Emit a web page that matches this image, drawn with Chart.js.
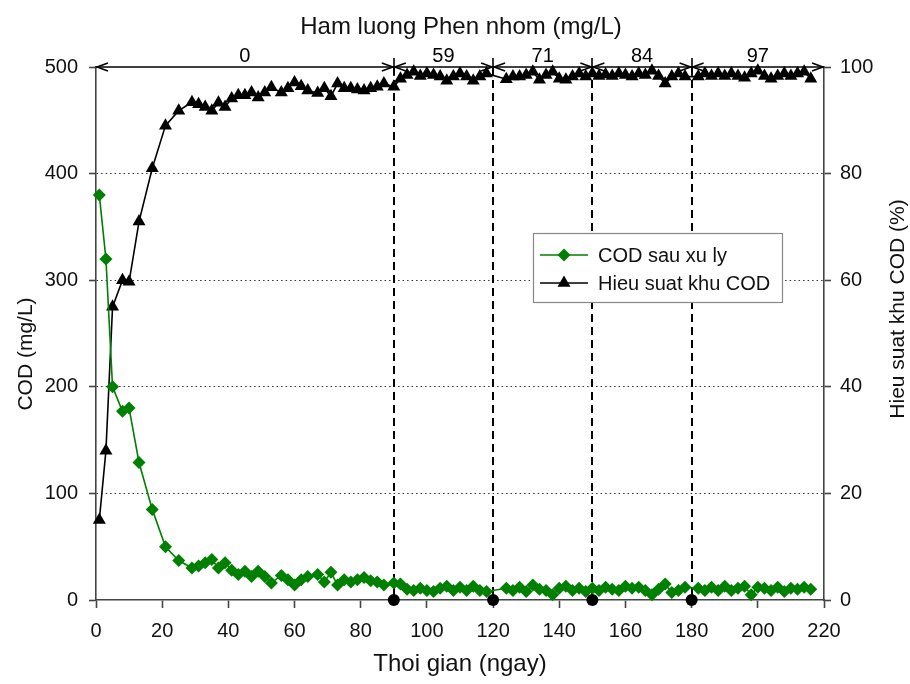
<!DOCTYPE html>
<html>
<head>
<meta charset="utf-8">
<script src="https://cdn.jsdelivr.net/npm/chart.js@4/dist/chart.umd.min.js"></script>
<style>
	body { margin: 0; background: #fff; }
	#wrap { width: 910px; height: 684px; }
</style>
</head>
<body>
<div id="wrap"><canvas id="chart-cod" width="910" height="684"></canvas></div>
<script>
// Data
const DAYS = [1, 3, 5, 8, 10, 13, 17, 21, 25, 29,
	31, 33, 35, 37, 39, 41, 43, 45, 47, 49, 51, 53,
	56, 58, 60, 62, 64,
	67, 69, 71, 73, 75, 77, 79, 81, 83, 85, 87,
	90, 92, 94, 96, 98, 100, 102, 104, 106, 108, 110, 112, 114, 116, 118,
	124, 126, 128, 130, 132, 134, 136, 138, 140, 142, 144, 146, 148, 150, 152, 154, 156, 158, 160, 162, 164, 166, 168, 170, 172, 174, 176, 178,
	182, 184, 186, 188, 190, 192, 194, 196, 198, 200, 202, 204, 206, 208, 210, 212, 214, 216];

const COD_OUT = [380, 320, 200, 177, 180, 129, 85, 50, 37, 30,
	32, 35, 38, 30, 35, 28, 24, 27, 22, 27, 22, 16,
	23, 19, 14, 19, 22,
	24, 17, 26, 14, 19, 17, 19, 21, 18, 17, 14,
	16, 15, 10, 9, 11, 9, 8, 11, 13, 9, 12, 9, 13, 9, 8,
	11, 9, 12, 8, 14, 10, 9, 5, 11, 13, 9, 11, 8, 11, 9, 12, 10, 9, 13, 11, 12, 9, 5, 10, 15, 7, 9, 12,
	11, 9, 12, 9, 13, 9, 11, 13, 5, 12, 11, 9, 12, 8, 11, 10, 12, 10];

const REMOVAL = [15, 28, 55, 60, 59.7, 71, 81, 89, 91.8, 93.4,
	93, 92.5, 91.8, 93.3, 92.5, 94.1, 94.7, 94.7, 95.2, 94.3, 95.2, 96.2,
	95.2, 96, 97.1, 96.4, 95.6,
	95.1, 96, 94.5, 96.9, 96, 96, 95.8, 95.6, 96, 96.3, 96.9,
	96.3, 97.8, 98.5, 99.1, 98.3, 98.8, 98.5, 98.2, 97.4, 98.2, 98.8, 98.2, 97.4, 98.2, 98.8,
	97.7, 98.2, 98.2, 98.5, 99.1, 97.6, 98.5, 99.1, 97.8, 97.6, 98.2, 98.8, 98.2, 98.8, 98.3, 98.6, 98.3, 98.8, 98.5, 98.2, 98.8, 98.5, 99.3, 98.3, 96.9, 98.2, 98.8, 98.2,
	98.2, 98.8, 98.3, 98.8, 98.3, 98.8, 98.3, 98, 98.8, 99.3, 98.3, 97.8, 98.3, 98.8, 98.3, 98.8, 99.1, 97.8];

// Alum dose periods (top arrows)
const DOSE_BOUNDS = [0, 90, 120, 150, 180, 220];
const DOSE_LABELS = ["0", "59", "71", "84", "97"];
const DOSE_CHANGE_DAYS = [90, 120, 150, 180];

const GREEN = "#008000";
const AXIS_COLOR = "#444";
const FONT = "'Liberation Sans', Arial, sans-serif";

//---------------------------------------------------------
// Helpers
//---------------------------------------------------------
const drawMarker = (ctx, style, x, y, r, color) => {
	ctx.save();
	ctx.fillStyle = color;
	ctx.beginPath();
	if (style === "rectRot") {
		ctx.moveTo(x, y - r);
		ctx.lineTo(x + r, y);
		ctx.lineTo(x, y + r);
		ctx.lineTo(x - r, y);
	} else {
		ctx.moveTo(x, y - r);
		ctx.lineTo(x + r * 0.866, y + r * 0.5);
		ctx.lineTo(x - r * 0.866, y + r * 0.5);
	}
	ctx.closePath();
	ctx.fill();
	ctx.restore();
};

const arrowHead = (ctx, x, y, dir) => {
	ctx.beginPath();
	ctx.moveTo(x + dir * 11, y - 4);
	ctx.lineTo(x, y);
	ctx.lineTo(x + dir * 11, y + 4);
	ctx.stroke();
};

//---------------------------------------------------------
// Plugins
//---------------------------------------------------------
const doseLines = {
	id: "doseLines",
	beforeDatasetsDraw(chart) {
		const { ctx, scales, chartArea } = chart;
		ctx.save();
		ctx.strokeStyle = "#000";
		ctx.lineWidth = 2;
		ctx.setLineDash([8, 5]);
		DOSE_CHANGE_DAYS.forEach((d) => {
			const x = Math.round(scales.x.getPixelForValue(d));
			ctx.beginPath();
			ctx.moveTo(x, chartArea.top);
			ctx.lineTo(x, chartArea.bottom);
			ctx.stroke();
		});
		ctx.restore();
	},
	afterDatasetsDraw(chart) {
		const { ctx, scales, chartArea } = chart;
		const yTop = chartArea.top;
		ctx.save();
		// dots on the time axis
		ctx.fillStyle = "#000";
		DOSE_CHANGE_DAYS.forEach((d) => {
			const x = scales.x.getPixelForValue(d);
			ctx.beginPath();
			ctx.arc(x, chartArea.bottom, 6, 0, Math.PI * 2);
			ctx.fill();
		});
		// arrows with dose labels
		ctx.strokeStyle = "#000";
		ctx.lineWidth = 1.6;
		ctx.font = "20px " + FONT;
		ctx.textAlign = "center";
		ctx.textBaseline = "alphabetic";
		for (let i = 0; i < DOSE_LABELS.length; i++) {
			const x1 = scales.x.getPixelForValue(DOSE_BOUNDS[i]);
			const x2 = scales.x.getPixelForValue(DOSE_BOUNDS[i + 1]);
			ctx.beginPath();
			ctx.moveTo(x1, yTop);
			ctx.lineTo(x2, yTop);
			ctx.stroke();
			arrowHead(ctx, x1 + 1, yTop, 1);
			arrowHead(ctx, x2 - 1, yTop, -1);
			ctx.fillText(DOSE_LABELS[i], (x1 + x2) / 2, yTop - 5);
		}
		DOSE_CHANGE_DAYS.forEach((d) => {
			const x = Math.round(scales.x.getPixelForValue(d));
			ctx.beginPath();
			ctx.moveTo(x, yTop - 9);
			ctx.lineTo(x, yTop + 9);
			ctx.stroke();
		});
		ctx.restore();
	},
	afterDraw(chart) {
		const { ctx } = chart;
		ctx.save();
		// legend box inside the plot
		const bx = 533, by = 233, bw = 249, bh = 69;
		ctx.fillStyle = "#fff";
		ctx.fillRect(bx, by, bw, bh);
		ctx.strokeStyle = "#888";
		ctx.lineWidth = 1.2;
		ctx.strokeRect(bx + 0.5, by + 0.5, bw, bh);
		ctx.font = "20px " + FONT;
		ctx.textAlign = "left";
		ctx.textBaseline = "middle";
		chart.data.datasets.forEach((ds, i) => {
			const y = by + 22 + i * 28;
			ctx.strokeStyle = ds.borderColor;
			ctx.lineWidth = 1.6;
			ctx.beginPath();
			ctx.moveTo(bx + 7, y);
			ctx.lineTo(bx + 55, y);
			ctx.stroke();
			drawMarker(ctx, ds.pointStyle, bx + 31, y, ds.pointStyle === "rectRot" ? 6.5 : 7.5, ds.backgroundColor);
			ctx.fillStyle = "#111";
			ctx.fillText(ds.label, bx + 65, y + 1);
		});

		// axis titles
		ctx.fillStyle = "#111";
		ctx.textAlign = "center";
		ctx.textBaseline = "middle";
		ctx.font = "24px " + FONT;
		ctx.fillText("Ham luong Phen nhom (mg/L)", 461, 27);
		ctx.fillText("Thoi gian (ngay)", 460, 664);
		ctx.font = "21px " + FONT;
		ctx.save();
		ctx.translate(26, 354);
		ctx.rotate(-Math.PI / 2);
		ctx.fillText("COD (mg/L)", 0, 0);
		ctx.restore();
		ctx.save();
		ctx.translate(898, 309);
		ctx.rotate(-Math.PI / 2);
		ctx.fillText("Hieu suat khu COD (%)", 0, 0);
		ctx.restore();
		ctx.restore();
	},
};

//---------------------------------------------------------
// Chart
//---------------------------------------------------------
const CHART_DATA = {
	datasets: [
		{
			label: "COD sau xu ly",
			data: DAYS.map((d, i) => ({ x: d, y: COD_OUT[i] })),
			yAxisID: "y",
			borderColor: GREEN,
			backgroundColor: GREEN,
			borderWidth: 1.6,
			pointStyle: "rectRot",
			pointRadius: 6.5,
			pointBorderWidth: 0,
			tension: 0,
			clip: false,
		},
		{
			label: "Hieu suat khu COD",
			data: DAYS.map((d, i) => ({ x: d, y: REMOVAL[i] })),
			yAxisID: "y1",
			borderColor: "#000",
			backgroundColor: "#000",
			borderWidth: 1.6,
			pointStyle: "triangle",
			pointRadius: 7.5,
			pointBorderWidth: 0,
			tension: 0,
			clip: false,
		},
	],
};

const tickFont = { family: FONT, size: 20 };

const CHART_CONFIG = {
	type: "line",
	data: CHART_DATA,
	options: {
		responsive: false,
		animation: false,
		layout: { padding: { top: 67, left: 0, right: 0, bottom: 0 } },
		scales: {
			x: {
				type: "linear",
				min: 0,
				max: 220,
				border: { display: true, color: AXIS_COLOR, width: 1.6 },
				grid: { drawOnChartArea: false, drawTicks: true, tickLength: 8, tickColor: AXIS_COLOR, tickWidth: 1.6 },
				ticks: { stepSize: 20, font: tickFont, color: "#111", padding: 11, maxRotation: 0 },
				afterFit: (scale) => { scale.height = 84; },
			},
			y: {
				position: "left",
				min: 0,
				max: 500,
				border: { display: true, color: AXIS_COLOR, width: 1.6, dash: [1.5, 3] },
				grid: {
					drawOnChartArea: true,
					color: (c) => (c.tick.value === 0 || c.tick.value === 500 ? "rgba(0,0,0,0)" : "#333"),
					lineWidth: 1,
					tickLength: 7,
					tickColor: AXIS_COLOR,
					tickWidth: 1.6,
					tickBorderDash: [],
				},
				ticks: { stepSize: 100, font: tickFont, color: "#111", padding: 11 },
				afterFit: (scale) => { scale.width = 96; },
			},
			y1: {
				position: "right",
				min: 0,
				max: 100,
				border: { display: true, color: AXIS_COLOR, width: 1.6 },
				grid: { drawOnChartArea: false, tickLength: 7, tickColor: AXIS_COLOR, tickWidth: 1.6 },
				ticks: { stepSize: 20, font: tickFont, color: "#111", padding: 9 },
				afterFit: (scale) => { scale.width = 86; },
			},
		},
		plugins: {
			legend: { display: false },
			tooltip: { enabled: false },
		},
	},
	plugins: [doseLines],
};

const CHART_WRAPPER = document.getElementById("chart-cod");
if (CHART_WRAPPER) {
	new Chart(CHART_WRAPPER, CHART_CONFIG);
}
</script>
</body>
</html>
